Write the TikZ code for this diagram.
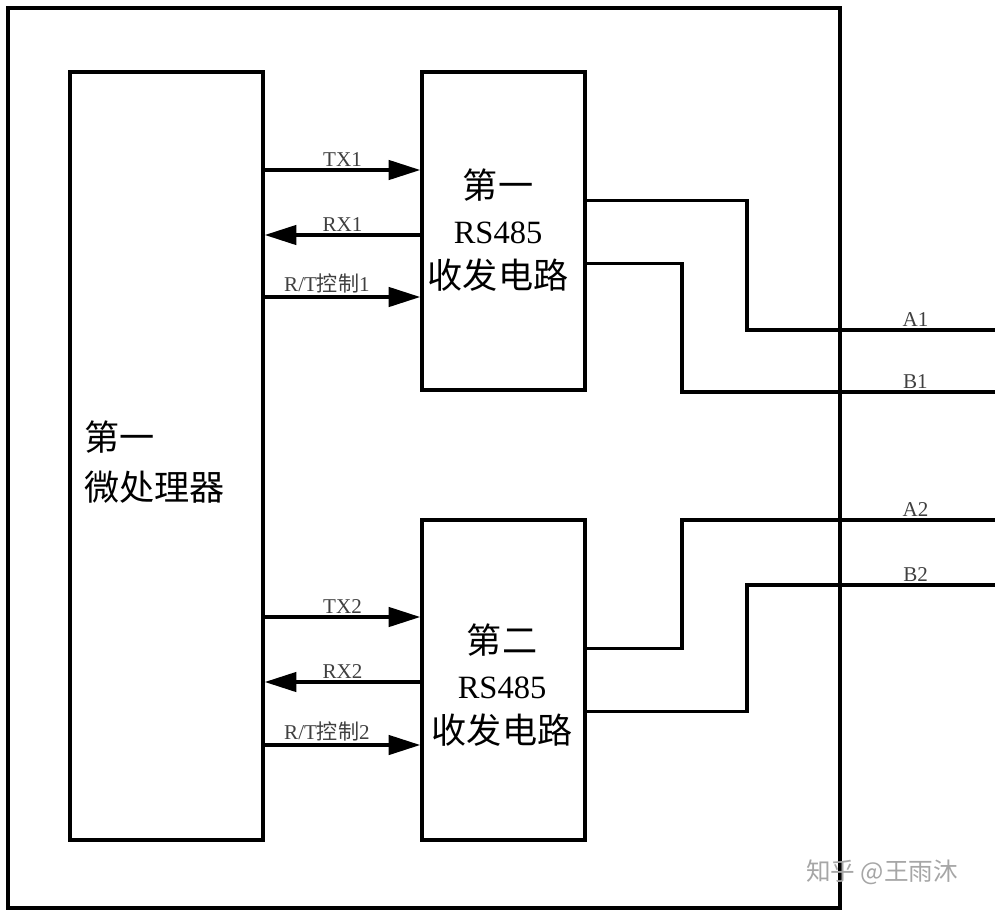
\documentclass[tikz,border=0pt]{standalone}
\usepackage{fontspec}
\setmainfont{Liberation Serif}
\newfontfamily\cjk{Noto Sans CJK SC}
\usetikzlibrary{arrows.meta, positioning, calc}
\tikzset{
    >={Triangle[length=18pt, width=11pt]},
    % Boxes
    blk/.style={rectangle, draw=black, line width=2pt, inner sep=0pt},
    frame/.style={draw=black, line width=2pt},
    % Lines & Labels
    flow/.style={->, line width=2pt, black},
    wire/.style={line width=2pt, black},
    lbl/.style={font=\fontsize{12}{14}\selectfont, inner sep=1pt, text=black!75},
    big/.style={font=\fontsize{20}{25.5}\selectfont\cjk, align=center, inner sep=0pt},
    wmark/.style={font=\fontsize{14}{16}\selectfont\cjk, text=black!35}
}
\newcommand{\rsname}{{\rmfamily\fontsize{18.5}{25.5}\selectfont RS485}}

\begin{document}
\begin{tikzpicture}[x=0.02cm, y=-0.02cm]
\useasboundingbox (0,0) rectangle (1000,913);

\draw[frame] (8,8) rectangle (840,908);

\node[blk, minimum width=3.86cm, minimum height=15.36cm] (mcu) at (166.5,456) {};
\node[blk, minimum width=3.26cm, minimum height=6.36cm] (rs1) at (503.5,231) {};
\node[blk, minimum width=3.26cm, minimum height=6.4cm] (rs2) at (503.5,680) {};

\node[big, align=left, anchor=west, font=\fontsize{20}{28.5}\selectfont\cjk] (mcutxt) at (84,462) {第一\\微处理器};
\node[big] (rs1txt) at (498,230) {第一\\\rsname\\收发电路};
\node[big] (rs2txt) at (502,685) {第二\\\rsname\\收发电路};

% signal lines
\coordinate (tx1) at (0,170);
\coordinate (rx1) at (0,235);
\coordinate (rt1) at (0,297);
\coordinate (tx2) at (0,617);
\coordinate (rx2) at (0,682);
\coordinate (rt2) at (0,745);

\draw[flow] (mcu.east |- tx1) -- node[lbl, above] {TX1} (rs1.west |- tx1);
\draw[flow] (rs1.west |- rx1) -- node[lbl, above] {RX1} (mcu.east |- rx1);
\draw[flow] (mcu.east |- rt1) -- node[lbl, above, pos=0.4] {R/T{\cjk 控制}1} (rs1.west |- rt1);

\draw[flow] (mcu.east |- tx2) -- node[lbl, above] {TX2} (rs2.west |- tx2);
\draw[flow] (rs2.west |- rx2) -- node[lbl, above] {RX2} (mcu.east |- rx2);
\draw[flow] (mcu.east |- rt2) -- node[lbl, above, pos=0.4] {R/T{\cjk 控制}2} (rs2.west |- rt2);

% bus terminals
\coordinate (A1) at (995,330);
\coordinate (B1) at (995,392);
\coordinate (A2) at (995,520);
\coordinate (B2) at (995,585);

\draw[wire] ($(rs1.north east)+(0,130)$) -- ++(160,0) |- node[lbl, above, pos=0.84] {A1} (A1);
\draw[wire] ($(rs1.north east)+(0,193)$) -- ++(95,0) |- node[lbl, above, pos=0.873] {B1} (B1);
\draw[wire] ($(rs2.north east)+(0,130)$) -- ++(95,0) |- node[lbl, above, pos=0.873] {A2} (A2);
\draw[wire] ($(rs2.north east)+(0,193)$) -- ++(160,0) |- node[lbl, above, pos=0.84] {B2} (B2);

\node[wmark] (wm) at (882,872) {知乎 @王雨沐};

\end{tikzpicture}
\end{document}
